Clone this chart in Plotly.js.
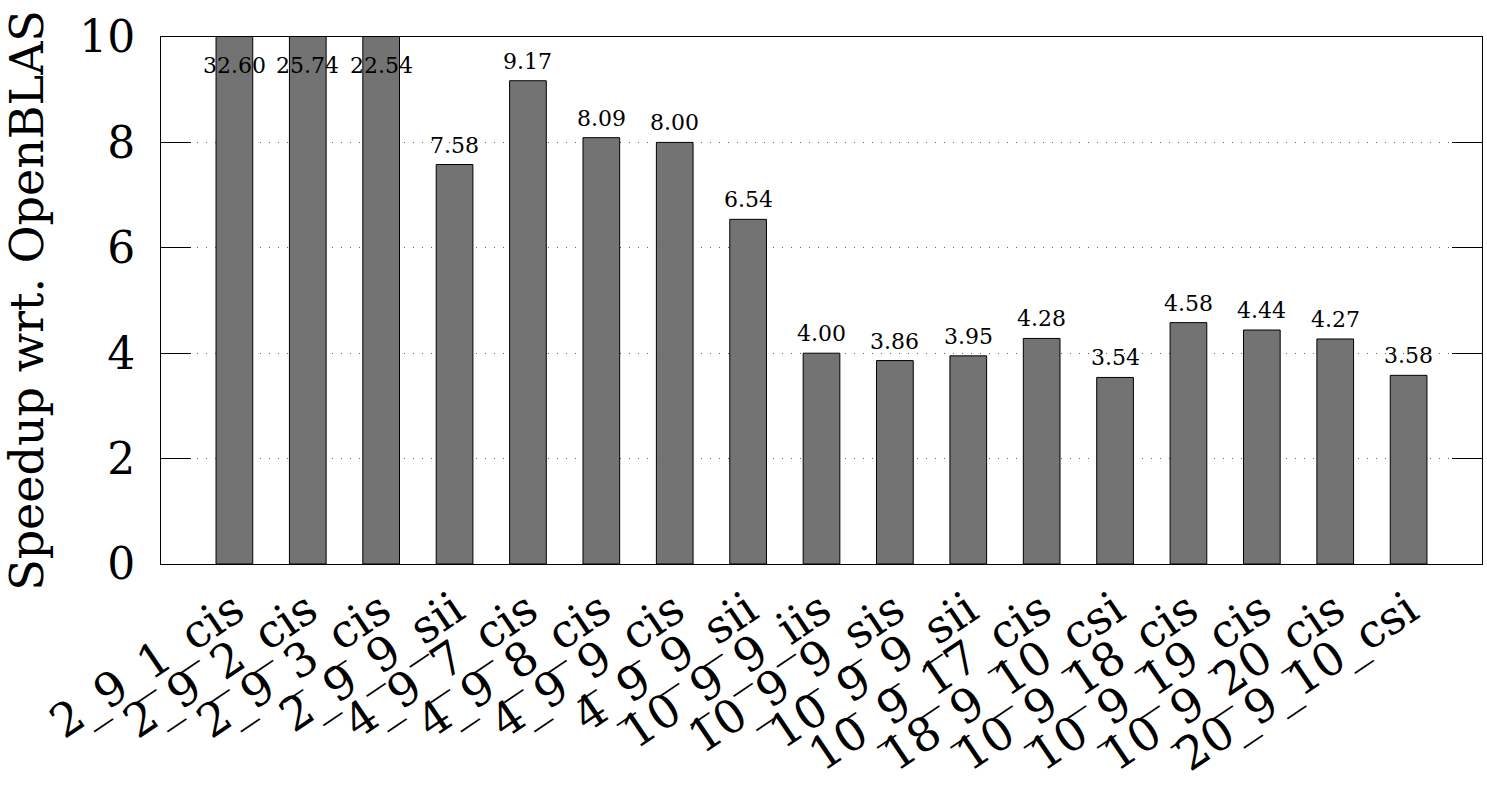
<!DOCTYPE html>
<html>
<head>
<meta charset="utf-8">
<script src="https://cdn.plot.ly/plotly-3.0.1.min.js"></script>
<style>
  body { margin: 0; background: #fff; }
  #chart { width: 1487px; height: 792px; }
</style>
</head>
<body>
<div id="chart"></div>
<script>
const configs = ["2_9_1_cis", "2_9_2_cis", "2_9_3_cis", "2_9_9_sii", "4_9_7_cis", "4_9_8_cis",
  "4_9_9_cis", "4_9_9_sii", "10_9_9_iis", "10_9_9_sis", "10_9_9_sii", "10_9_17_cis",
  "18_9_10_csi", "10_9_18_cis", "10_9_19_cis", "10_9_20_cis", "20_9_10_csi"];
const speedup = [32.60, 25.74, 22.54, 7.58, 9.17, 8.09, 8.00, 6.54, 4.00, 3.86, 3.95, 4.28,
  3.54, 4.58, 4.44, 4.27, 3.58];
const yTicks = [0, 2, 4, 6, 8, 10];

const yMax = 10;
const font = "DejaVu Serif";
const xIdx = configs.map((c, i) => i);

// value labels: above the bar, or just under the top edge when the bar is cut off
const labels = speedup.map((v, i) => {
  const cut = v > yMax;
  return {
    x: i, y: cut ? yMax : v,
    text: v.toFixed(2),
    showarrow: false,
    yanchor: cut ? "top" : "bottom",
    yshift: cut ? -14 : 5,
    font: { family: font, size: 22, color: "#000" }
  };
});

const trace = {
  type: "bar",
  x: xIdx,
  y: speedup,
  width: 0.5,
  marker: { color: "#737373", line: { color: "#000", width: 1 } },
  hoverinfo: "skip"
};

const layout = {
  width: 1487,
  height: 792,
  margin: { l: 161, r: 5, t: 37, b: 228 },
  paper_bgcolor: "#fff",
  plot_bgcolor: "#fff",
  font: { family: font, color: "#000" },
  showlegend: false,
  xaxis: {
    range: [-1, xIdx.length],
    tickmode: "array",
    tickvals: xIdx,
    ticktext: configs,
    tickangle: -34,
    tickfont: { family: font, size: 46 },
    ticks: "",
    showgrid: false,
    zeroline: false,
    showline: true, mirror: true, linecolor: "#000", linewidth: 1
  },
  yaxis: {
    range: [0, yMax],
    tickmode: "array",
    tickvals: yTicks,
    ticktext: yTicks.map(String),
    tickfont: { family: font, size: 44 },
    ticks: "inside", ticklen: 30, tickcolor: "#000", tickwidth: 1,
    ticklabelstandoff: 16,
    showgrid: true, gridcolor: "#666", griddash: "1px,8px", gridwidth: 1,
    zeroline: false,
    showline: true, mirror: "ticks", linecolor: "#000", linewidth: 1,
    title: { text: "Speedup wrt. OpenBLAS", font: { family: font, size: 46 }, standoff: 26 }
  },
  annotations: labels
};

Plotly.newPlot("chart", [trace], layout, { displayModeBar: false, staticPlot: true });
</script>
</body>
</html>
